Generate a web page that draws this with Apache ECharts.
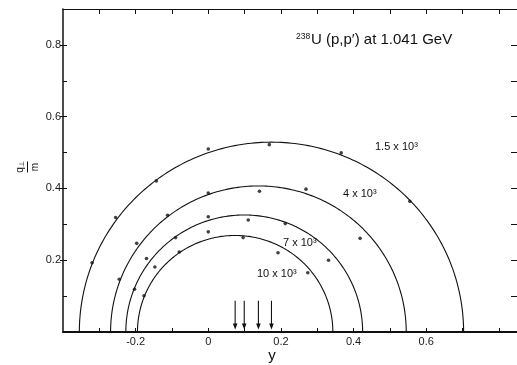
<!DOCTYPE html>
<html><head><meta charset="utf-8">
<script src="https://cdn.jsdelivr.net/npm/echarts@6/dist/echarts.min.js"></script>
<style>html,body{margin:0;padding:0;background:#fff}#c{width:517px;height:365px}</style>
</head><body><div id="c"></div>
<script>
// ---- data ----
const circleLabels = ['1.5 x 10³', '4 x 10³', '7 x 10³', '10 x 10³'];
const circleCenters = [0.174, 0.138, 0.099, 0.074];
const circleRadii = [0.529, 0.407, 0.326, 0.269];
const pts15 = [[-0.320,0.193],[-0.255,0.319],[-0.143,0.421],[0.000,0.510],[0.168,0.522],[0.366,0.499],[0.555,0.364]];
const pts4  = [[-0.245,0.147],[-0.197,0.247],[-0.112,0.325],[0.000,0.387],[0.141,0.392],[0.269,0.398],[0.418,0.261]];
const pts7  = [[-0.203,0.119],[-0.170,0.205],[-0.090,0.263],[0.000,0.321],[0.110,0.312],[0.212,0.302],[0.331,0.200]];
const pts10 = [[-0.177,0.101],[-0.147,0.181],[-0.080,0.223],[0.000,0.279],[0.096,0.263],[0.192,0.221],[0.274,0.165]];
const arrowTop = 0.087, arrowTip = 0.007;
const xLabelTicks = [-0.2, 0, 0.2, 0.4, 0.6];
const xMinorTicks = [-0.3, -0.2, -0.1, 0, 0.1, 0.2, 0.3, 0.4, 0.5, 0.6, 0.7, 0.8];
const yLabelTicks = [0.2, 0.4, 0.6, 0.8];
const yMinorTicks = [0.1, 0.2, 0.3, 0.4, 0.5, 0.6, 0.7, 0.8];

const FONT = 'Liberation Sans, Arial, sans-serif';
const INK = '#111';

const chart = echarts.init(document.getElementById('c'), null, {renderer: 'canvas'});

const xBase = {type: 'value', min: -0.4, max: 0.85, splitLine: {show: false}};
const yBase = {type: 'value', min: 0, max: 0.9, splitLine: {show: false}};

function scatterSeries(d) {
  return {type: 'scatter', data: d, symbol: 'circle', symbolSize: 3.6,
    itemStyle: {color: INK}, silent: true, z: 5};
}

chart.setOption({
  animation: false,
  backgroundColor: '#fff',
  grid: {left: 63, right: -2, top: 9, bottom: 33, containLabel: false},
  xAxis: [
    Object.assign({}, xBase, {position: 'bottom',
      axisLine: {show: true, onZero: false, lineStyle: {color: INK, width: 1.8}},
      axisTick: {show: true, inside: true, length: 4, customValues: xMinorTicks, lineStyle: {color: INK, width: 1}},
      axisLabel: {show: true, customValues: xLabelTicks, margin: 4, fontSize: 11, fontFamily: FONT, color: '#1a1a1a',
        formatter: v => (Math.abs(v) < 1e-9 ? '0' : (+v).toFixed(1))}}),
    Object.assign({}, xBase, {position: 'top',
      axisLine: {show: true, onZero: false, lineStyle: {color: INK, width: 1.2}},
      axisTick: {show: true, inside: true, length: 5, customValues: xMinorTicks, lineStyle: {color: INK, width: 1}},
      axisLabel: {show: false}})
  ],
  yAxis: [
    Object.assign({}, yBase, {position: 'left',
      axisLine: {show: true, onZero: false, lineStyle: {color: INK, width: 1.5}},
      axisTick: {show: true, inside: true, length: 4, customValues: yMinorTicks, lineStyle: {color: INK, width: 1}},
      axisLabel: {show: false}}),
    Object.assign({}, yBase, {position: 'left',
      axisLine: {show: false, onZero: false},
      axisTick: {show: true, inside: false, length: 3, customValues: yLabelTicks, lineStyle: {color: INK, width: 1}},
      axisLabel: {show: true, customValues: yLabelTicks, margin: 2, fontSize: 11, fontFamily: FONT, color: '#1a1a1a',
        formatter: v => (+v).toFixed(1)}}),
    Object.assign({}, yBase, {position: 'right',
      axisLine: {show: false, onZero: false},
      axisTick: {show: true, inside: true, length: 6, customValues: yMinorTicks, lineStyle: {color: INK, width: 1}},
      axisLabel: {show: false}})
  ],
  series: [
    {
      type: 'custom', name: 'circles', silent: true, z: 3,
      data: circleCenters.map((c, i) => [c, circleRadii[i]]),
      encode: {x: 0, y: 1},
      renderItem: function (params, api) {
        const c = api.value(0), r = api.value(1);
        const pts = [];
        for (let k = 0; k <= 180; k++) {
          const a = Math.PI * k / 180;
          pts.push(api.coord([c + r * Math.cos(a), r * Math.sin(a)]));
        }
        return {type: 'polyline', shape: {points: pts},
          style: {stroke: INK, lineWidth: 1.1, fill: null}};
      }
    },
    {
      type: 'custom', name: 'arrows', silent: true, z: 4,
      data: circleCenters.map(c => [c, arrowTop, arrowTip]),
      encode: {x: 0, y: [1, 2]},
      renderItem: function (params, api) {
        const top = api.coord([api.value(0), api.value(1)]);
        const tip = api.coord([api.value(0), api.value(2)]);
        return {type: 'group', children: [
          {type: 'line', shape: {x1: top[0], y1: top[1], x2: tip[0], y2: tip[1] - 4},
            style: {stroke: INK, lineWidth: 1.1}},
          {type: 'polygon', shape: {points: [[tip[0], tip[1]], [tip[0] - 2.3, tip[1] - 6], [tip[0] + 2.3, tip[1] - 6]]},
            style: {fill: INK}}
        ]};
      }
    },
    scatterSeries(pts15),
    scatterSeries(pts4),
    scatterSeries(pts7),
    scatterSeries(pts10)
  ],
  graphic: [
    {type: 'text', left: 296, top: 32, style: {text: '238', fontSize: 8.5, fontFamily: FONT, fill: INK}},
    {type: 'text', x: 311, y: 40, style: {text: 'U (p,p′) at 1.041 GeV', fontSize: 15, fontFamily: FONT, fill: INK, verticalAlign: 'middle', align: 'left'}},
    {type: 'text', x: 375, y: 147, style: {text: circleLabels[0], fontSize: 11, fontFamily: FONT, fill: INK, verticalAlign: 'middle'}},
    {type: 'text', x: 343, y: 194, style: {text: circleLabels[1], fontSize: 11, fontFamily: FONT, fill: INK, verticalAlign: 'middle'}},
    {type: 'text', x: 283, y: 243, style: {text: circleLabels[2], fontSize: 11, fontFamily: FONT, fill: INK, verticalAlign: 'middle'}},
    {type: 'text', x: 257, y: 274, style: {text: circleLabels[3], fontSize: 11, fontFamily: FONT, fill: INK, verticalAlign: 'middle'}},
    {type: 'text', x: 272, y: 356, style: {text: 'y', fontSize: 15, fontFamily: FONT, fill: INK, align: 'center', verticalAlign: 'middle'}},
    {type: 'group', x: 27.5, y: 167, rotation: Math.PI / 2, children: [
      {type: 'text', x: 0, y: -1.5, style: {text: '{q|q}{s|⊥}', fontFamily: FONT, fill: INK, align: 'center', verticalAlign: 'bottom',
        rich: {q: {fontSize: 10, fontFamily: FONT, fill: INK}, s: {fontSize: 6.5, fontFamily: FONT, fill: INK, padding: [4, 0, 0, 0]}}}},
      {type: 'line', shape: {x1: -5.5, y1: 0, x2: 5.5, y2: 0}, style: {stroke: INK, lineWidth: 1}},
      {type: 'text', x: 0, y: 2.5, style: {text: 'm', fontSize: 10, fontFamily: FONT, fill: INK, align: 'center', verticalAlign: 'top'}}
    ]}
  ]
});
</script>
</body></html>
